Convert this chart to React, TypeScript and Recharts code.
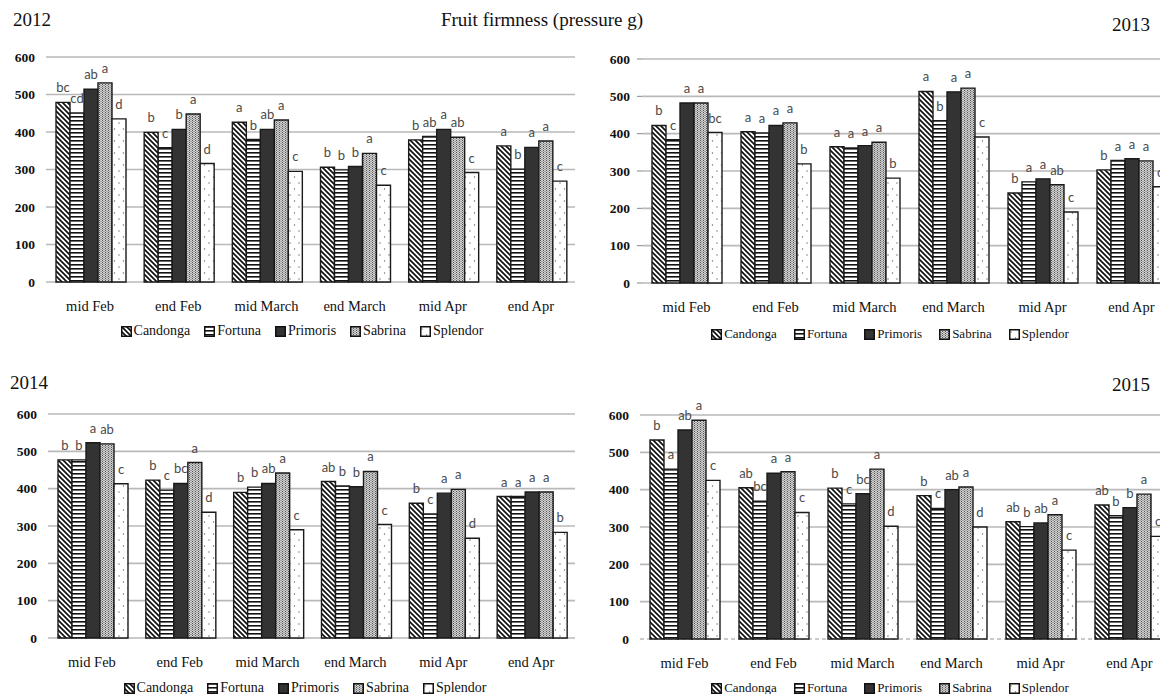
import React from "react"
import { Bar, BarChart, CartesianGrid, LabelList, XAxis, YAxis } from "recharts"

const categories = ["mid Feb", "end Feb", "mid March", "end March", "mid Apr", "end Apr"]
const cultivars = ["Candonga", "Fortuna", "Primoris", "Sabrina", "Splendor"]
const yTicks = [0, 100, 200, 300, 400, 500, 600]

// rows = sampling date, columns = cultivar (same order as `cultivars`)
const firmness2012 = [
  [479, 451, 514, 531, 435],
  [399, 358, 407, 448, 316],
  [426, 380, 407, 432, 295],
  [306, 299, 308, 343, 258],
  [379, 388, 407, 386, 292],
  [363, 301, 359, 376, 269],
]
const letters2012 = [
  ["bc", "cd", "ab", "a", "d"],
  ["b", "c", "b", "a", "d"],
  ["a", "b", "ab", "a", "c"],
  ["b", "b", "b", "a", "c"],
  ["b", "ab", "a", "ab", "c"],
  ["a", "b", "a", "a", "c"],
]

const firmness2013 = [
  [422, 384, 482, 482, 403],
  [405, 402, 422, 429, 319],
  [365, 362, 368, 377, 281],
  [513, 435, 512, 522, 391],
  [241, 271, 279, 263, 190],
  [303, 328, 333, 327, 258],
]
const letters2013 = [
  ["b", "c", "a", "a", "bc"],
  ["a", "a", "a", "a", "b"],
  ["a", "a", "a", "a", "b"],
  ["a", "b", "a", "a", "c"],
  ["b", "a", "a", "ab", "c"],
  ["b", "a", "a", "a", "c"],
]

const firmness2014 = [
  [477, 477, 523, 520, 413],
  [423, 396, 414, 470, 337],
  [390, 404, 414, 442, 290],
  [419, 407, 405, 446, 304],
  [361, 332, 388, 398, 267],
  [379, 379, 391, 391, 283],
]
const letters2014 = [
  ["b", "b", "a", "ab", "c"],
  ["b", "c", "bc", "a", "d"],
  ["b", "b", "ab", "a", "c"],
  ["ab", "b", "b", "a", "c"],
  ["b", "c", "a", "a", "d"],
  ["a", "a", "a", "a", "b"],
]

const firmness2015 = [
  [533, 455, 560, 586, 425],
  [405, 369, 444, 448, 339],
  [404, 362, 389, 455, 302],
  [384, 350, 400, 407, 300],
  [314, 301, 311, 333, 238],
  [359, 330, 352, 388, 275],
]
const letters2015 = [
  ["b", "a", "ab", "a", "c"],
  ["ab", "bc", "a", "a", "c"],
  ["b", "c", "bc", "a", "d"],
  ["b", "c", "ab", "a", "d"],
  ["ab", "b", "ab", "a", "c"],
  ["ab", "b", "b", "a", "c"],
]

const FILLS: Record<string, string> = {
  Candonga: "url(#pat-diag)",
  Fortuna: "url(#pat-horiz)",
  Primoris: "#333",
  Sabrina: "url(#pat-sab)",
  Splendor: "url(#pat-dots)",
}

const SERIF = "'Liberation Serif', 'Times New Roman', serif"
const X_H = 40

function buildRows(vals: number[][], lets: string[][]) {
  return categories.map((c, i) => {
    const row: Record<string, string | number> = { cat: c }
    cultivars.forEach((k, j) => {
      row[k] = vals[i][j]
      row[k + "_l"] = lets[i][j]
    })
    return row
  })
}

function Patterns() {
  return (
    <svg width={0} height={0} style={{ position: "absolute" }}>
      <defs>
        <pattern id="pat-diag" patternUnits="userSpaceOnUse" width={5} height={5}>
          <rect width={5} height={5} fill="#fff" />
          <path d="M-1,-1 L6,6 M-1,4 L1,6 M4,-1 L6,1" stroke="#111" strokeWidth={1.7} />
        </pattern>
        <pattern id="pat-horiz" patternUnits="userSpaceOnUse" width={4} height={4}>
          <rect width={4} height={4} fill="#fff" />
          <rect y={0} width={4} height={1.6} fill="#111" />
        </pattern>
        <pattern id="pat-sab" patternUnits="userSpaceOnUse" width={3} height={2}>
          <rect width={3} height={2} fill="#cfcfcf" />
          <rect x={0} y={0} width={1} height={1} fill="#555" />
          <rect x={1.5} y={1} width={1} height={1} fill="#777" />
        </pattern>
        <pattern id="pat-dots" patternUnits="userSpaceOnUse" width={9} height={12}>
          <rect width={9} height={12} fill="#fff" />
          <circle cx={2} cy={3} r={0.7} fill="#666" />
          <circle cx={6.5} cy={9} r={0.7} fill="#666" />
        </pattern>
      </defs>
    </svg>
  )
}

type PanelProps = {
  vals: number[][]
  lets: string[][]
  left: number
  top: number
  width: number
  plotBottom: number
  marginTop: number
  marginRight: number
  axisW: number
  tickSize: number
  dashedZero?: boolean
}

function Panel(p: PanelProps) {
  const rows = buildRows(p.vals, p.lets)
  return (
    <div style={{ position: "absolute", left: p.left, top: p.top }}>
      <BarChart
        width={p.width} height={p.plotBottom + X_H} data={rows}
        margin={{ top: p.marginTop, right: p.marginRight, left: 0, bottom: 0 }}
        barCategoryGap={10} barGap={0}
      >
        <CartesianGrid
          vertical={false}
          horizontal={(g: any) => (
            <line
              key={`h-${g.y1}`} x1={g.x1} x2={g.x2} y1={g.y1} y2={g.y2}
              stroke="#b9b9b9" strokeWidth={1.6}
              strokeDasharray={p.dashedZero && Math.abs(g.y1 - p.plotBottom) < 1.5 ? "4 3" : undefined}
            />
          )}
        />
        <XAxis
          dataKey="cat" height={X_H} interval={0} axisLine={false} tickLine={false}
          tickSize={0} tickMargin={19}
          tick={{ fontFamily: SERIF, fontSize: 14.5, fill: "#111" }}
        />
        <YAxis
          domain={[0, 600]} ticks={yTicks} width={p.axisW} axisLine={false}
          tickLine={p.tickSize > 0 ? { stroke: "#888" } : false}
          tickSize={p.tickSize} tickMargin={p.tickSize > 0 ? 7 : 11}
          tick={{ fontFamily: SERIF, fontSize: 13.5, fontWeight: 700, fill: "#111" }}
        />
        {cultivars.map((k) => (
          <Bar key={k} dataKey={k} fill={FILLS[k]} stroke="#1a1a1a" strokeWidth={1.4} isAnimationActive={false}>
            <LabelList dataKey={k + "_l"} position="top" offset={10} fill="#4a4a4a" fontSize={13} fontFamily="Lato" />
          </Bar>
        ))}
      </BarChart>
    </div>
  )
}

function LegendRow({ cx, cy, fontSize, gap }: { cx: number; cy: number; fontSize: number; gap: number }) {
  return (
    <div
      style={{
        position: "absolute", left: cx - 250, top: cy - 10, width: 500, height: 20,
        display: "flex", justifyContent: "center", alignItems: "center", gap,
        fontFamily: SERIF, fontSize, color: "#111",
      }}
    >
      {cultivars.map((k) => (
        <div key={k} style={{ display: "flex", alignItems: "center", gap: 2 }}>
          <svg width={11} height={11}>
            <rect x={0.75} y={0.75} width={9.5} height={9.5} fill={FILLS[k]} stroke="#111" strokeWidth={1.5} />
          </svg>
          <span>{k}</span>
        </div>
      ))}
    </div>
  )
}

const titleStyle: React.CSSProperties = {
  position: "absolute", fontFamily: SERIF, fontSize: 19, lineHeight: "22px", color: "#111",
}

export default function App() {
  return (
    <div style={{ position: "absolute", left: 0, top: 0, width: 1160, height: 694, overflow: "hidden", background: "#fff" }}>
      <Patterns />
      <div style={{ ...titleStyle, left: 13, top: 9 }}>2012</div>
      <div style={{ ...titleStyle, left: 342, width: 400, top: 9, textAlign: "center" }}>Fruit firmness (pressure g)</div>
      <div style={{ ...titleStyle, right: 10, top: 14 }}>2013</div>
      <div style={{ ...titleStyle, left: 10, top: 372 }}>2014</div>
      <div style={{ ...titleStyle, right: 10, top: 374 }}>2015</div>

      <Panel vals={firmness2012} lets={letters2012} left={0} top={0} width={580} plotBottom={282}
        marginTop={57} marginRight={5} axisW={46} tickSize={0} />
      <Panel vals={firmness2013} lets={letters2013} left={580} top={0} width={596} plotBottom={283}
        marginTop={59} marginRight={0} axisW={62} tickSize={5} />
      <Panel vals={firmness2014} lets={letters2014} left={0} top={357} width={580} plotBottom={281}
        marginTop={57} marginRight={5} axisW={48} tickSize={0} />
      <Panel vals={firmness2015} lets={letters2015} left={580} top={357} width={594} plotBottom={282}
        marginTop={58} marginRight={0} axisW={60} tickSize={0} dashedZero />

      <LegendRow cx={302} cy={331} fontSize={14} gap={14} />
      <LegendRow cx={890} cy={334} fontSize={13} gap={17} />
      <LegendRow cx={305} cy={688} fontSize={14} gap={14} />
      <LegendRow cx={890} cy={688} fontSize={13} gap={17} />
    </div>
  )
}
